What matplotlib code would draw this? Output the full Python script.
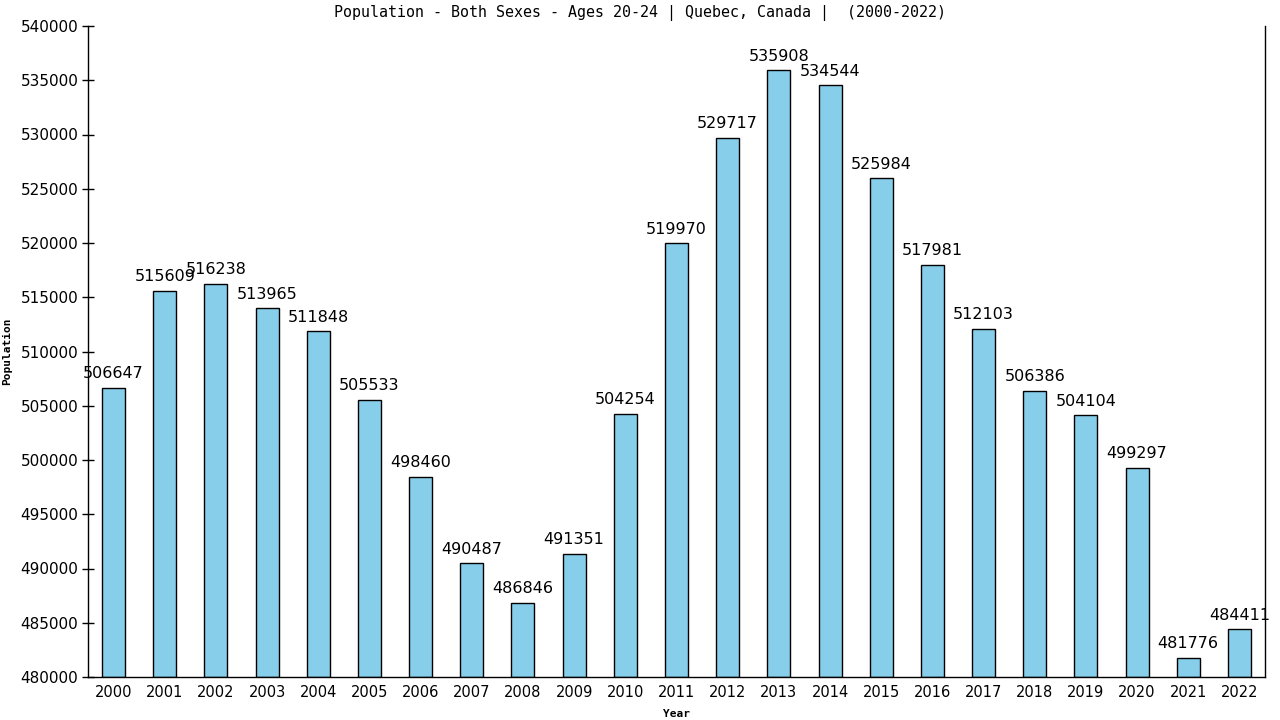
import matplotlib
matplotlib.use("Agg")
import matplotlib.pyplot as plt

# ── data ─────────────────────────────────────────────────────────────────────
years = [str(y) for y in range(2000, 2023)]
population = [
    506647, 515609, 516238, 513965, 511848, 505533, 498460, 490487,
    486846, 491351, 504254, 519970, 529717, 535908, 534544, 525984,
    517981, 512103, 506386, 504104, 499297, 481776, 484411,
]
y_ticks = list(range(480000, 540001, 5000))

# ── plot ─────────────────────────────────────────────────────────────────────
fig = plt.figure(figsize=(12.8, 7.2), dpi=100)
fig.patch.set_facecolor("white")
ax = fig.add_axes([88 / 1280, 1 - 677 / 720, (1265 - 88) / 1280, (677 - 26) / 720])

x = list(range(len(years)))
bars = ax.bar(x, [p - 480000 for p in population], bottom=480000, width=0.45,
              color="#87CEEB", edgecolor="black", linewidth=1.0, zorder=2)

for xi, val in zip(x, population):
    ax.text(xi, val + 600, str(val), ha="center", va="bottom",
            fontsize=11.5, color="black", family="DejaVu Sans")

ax.set_xlim(-0.5, 22.5)
ax.set_ylim(480000, 540000)
ax.set_xticks(x)
ax.set_xticklabels(years, fontsize=10.5)
ax.set_yticks(y_ticks)
ax.set_yticklabels([str(t) for t in y_ticks], fontsize=11)
ax.tick_params(axis="x", length=0, pad=6)
ax.tick_params(axis="y", direction="inout", length=8, width=1, pad=3)

ax.spines["top"].set_visible(False)
for s in ("left", "bottom", "right"):
    ax.spines[s].set_color("black")
    ax.spines[s].set_linewidth(1)

ax.set_xlabel("Year", fontsize=8, fontweight="bold", family="DejaVu Sans Mono", labelpad=6)
ax.set_ylabel("Population", fontsize=8, fontweight="bold", family="DejaVu Sans Mono", labelpad=6)
fig.text(0.5, 0.982,
         "Population - Both Sexes - Ages 20-24 | Quebec, Canada |  (2000-2022)",
         ha="center", va="center", fontsize=10.8, family="DejaVu Sans Mono")

fig.savefig("out.png", dpi=100, facecolor="white")
